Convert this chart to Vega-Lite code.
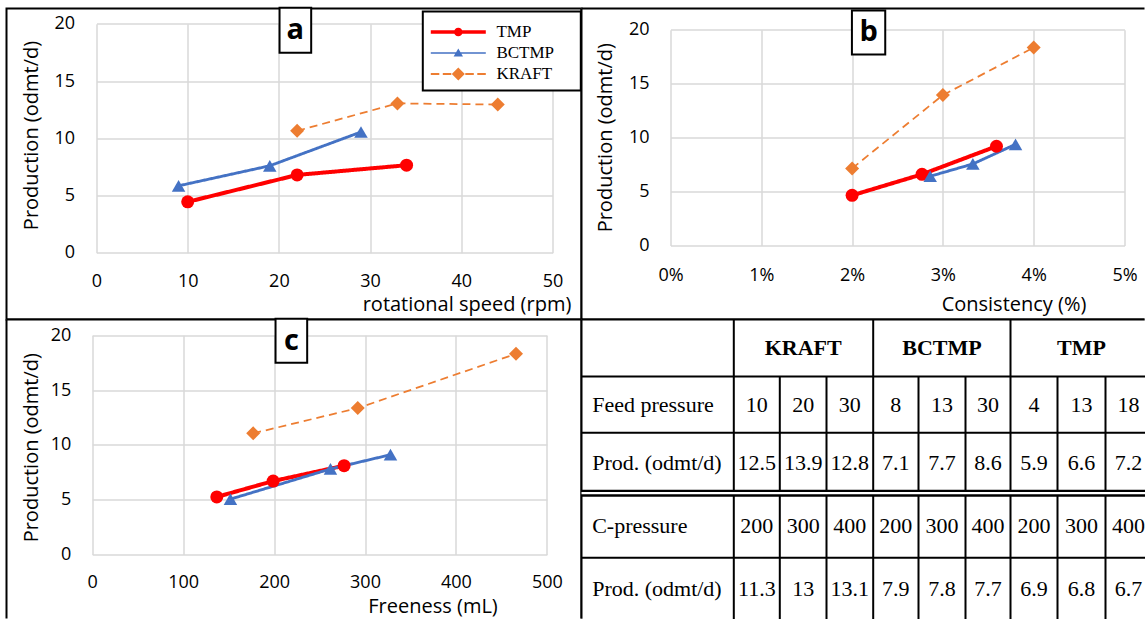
{
  "$schema": "https://vega.github.io/schema/vega-lite/v6.json",
  "padding": {"left": 5.5, "top": 5.5, "right": 0, "bottom": 0},
  "background": "white",
  "config": {
    "view": {"stroke": null},
    "font": "Open Sans",
    "axis": {
      "grid": true, "gridColor": "#d9d9d9", "gridWidth": 1.5,
      "domain": false, "ticks": false, "tickSize": 0,
      "labelFont": "Open Sans", "labelFontSize": 18, "labelColor": "black",
      "labelFlush": false, "labelOverlap": false, "labelBound": false,
      "titleFont": "Open Sans", "titleFontSize": 20, "titleFontWeight": "normal", "titleColor": "black",
      "titleAlign": "center", "titleBaseline": "middle"
    }
  },
  "datasets": {
    "pa": [
      {"series": "TMP", "speed": 10, "prod": 4.45},
      {"series": "TMP", "speed": 22, "prod": 6.8},
      {"series": "TMP", "speed": 34, "prod": 7.65},
      {"series": "BCTMP", "speed": 9, "prod": 5.85},
      {"series": "BCTMP", "speed": 19, "prod": 7.6},
      {"series": "BCTMP", "speed": 29, "prod": 10.55},
      {"series": "KRAFT", "speed": 22, "prod": 10.65},
      {"series": "KRAFT", "speed": 33, "prod": 13.05},
      {"series": "KRAFT", "speed": 44, "prod": 12.95}
    ],
    "pb": [
      {"series": "TMP", "consistency": 0.02, "prod": 4.65},
      {"series": "TMP", "consistency": 0.0277, "prod": 6.6},
      {"series": "TMP", "consistency": 0.0359, "prod": 9.2},
      {"series": "BCTMP", "consistency": 0.0286, "prod": 6.42},
      {"series": "BCTMP", "consistency": 0.0333, "prod": 7.56},
      {"series": "BCTMP", "consistency": 0.038, "prod": 9.38},
      {"series": "KRAFT", "consistency": 0.02, "prod": 7.15},
      {"series": "KRAFT", "consistency": 0.03, "prod": 13.95},
      {"series": "KRAFT", "consistency": 0.04, "prod": 18.35}
    ],
    "pc": [
      {"series": "TMP", "freeness": 137, "prod": 5.25},
      {"series": "TMP", "freeness": 199, "prod": 6.7},
      {"series": "TMP", "freeness": 277, "prod": 8.1},
      {"series": "BCTMP", "freeness": 152, "prod": 5.05},
      {"series": "BCTMP", "freeness": 262, "prod": 7.8},
      {"series": "BCTMP", "freeness": 328, "prod": 9.1},
      {"series": "KRAFT", "freeness": 177, "prod": 11.05},
      {"series": "KRAFT", "freeness": 292, "prod": 13.35},
      {"series": "KRAFT", "freeness": 466, "prod": 18.3}
    ],
    "cells": [
      {"row": 0, "col": 2, "text": "KRAFT"},
      {"row": 0, "col": 5, "text": "BCTMP"},
      {"row": 0, "col": 8, "text": "TMP"},
      {"row": 1, "col": 0, "text": "Feed pressure"},
      {"row": 1, "col": 1, "text": "10"}, {"row": 1, "col": 2, "text": "20"}, {"row": 1, "col": 3, "text": "30"},
      {"row": 1, "col": 4, "text": "8"}, {"row": 1, "col": 5, "text": "13"}, {"row": 1, "col": 6, "text": "30"},
      {"row": 1, "col": 7, "text": "4"}, {"row": 1, "col": 8, "text": "13"}, {"row": 1, "col": 9, "text": "18"},
      {"row": 2, "col": 0, "text": "Prod. (odmt/d)"},
      {"row": 2, "col": 1, "text": "12.5"}, {"row": 2, "col": 2, "text": "13.9"}, {"row": 2, "col": 3, "text": "12.8"},
      {"row": 2, "col": 4, "text": "7.1"}, {"row": 2, "col": 5, "text": "7.7"}, {"row": 2, "col": 6, "text": "8.6"},
      {"row": 2, "col": 7, "text": "5.9"}, {"row": 2, "col": 8, "text": "6.6"}, {"row": 2, "col": 9, "text": "7.2"},
      {"row": 3, "col": 0, "text": "C-pressure"},
      {"row": 3, "col": 1, "text": "200"}, {"row": 3, "col": 2, "text": "300"}, {"row": 3, "col": 3, "text": "400"},
      {"row": 3, "col": 4, "text": "200"}, {"row": 3, "col": 5, "text": "300"}, {"row": 3, "col": 6, "text": "400"},
      {"row": 3, "col": 7, "text": "200"}, {"row": 3, "col": 8, "text": "300"}, {"row": 3, "col": 9, "text": "400"},
      {"row": 4, "col": 0, "text": "Prod. (odmt/d)"},
      {"row": 4, "col": 1, "text": "11.3"}, {"row": 4, "col": 2, "text": "13"}, {"row": 4, "col": 3, "text": "13.1"},
      {"row": 4, "col": 4, "text": "7.9"}, {"row": 4, "col": 5, "text": "7.8"}, {"row": 4, "col": 6, "text": "7.7"},
      {"row": 4, "col": 7, "text": "6.9"}, {"row": 4, "col": 8, "text": "6.8"}, {"row": 4, "col": 9, "text": "6.7"}
    ],
    "lines": [
      {"col": 0.5, "col2": 0.5, "row": -0.5, "row2": 4.5, "kind": "solid"},
      {"col": 3.5, "col2": 3.5, "row": -0.5, "row2": 4.5, "kind": "solid"},
      {"col": 6.5, "col2": 6.5, "row": -0.5, "row2": 4.5, "kind": "solid"},
      {"col": 1.5, "col2": 1.5, "row": 0.5, "row2": 4.5, "kind": "solid"},
      {"col": 2.5, "col2": 2.5, "row": 0.5, "row2": 4.5, "kind": "solid"},
      {"col": 4.5, "col2": 4.5, "row": 0.5, "row2": 4.5, "kind": "solid"},
      {"col": 5.5, "col2": 5.5, "row": 0.5, "row2": 4.5, "kind": "solid"},
      {"col": 7.5, "col2": 7.5, "row": 0.5, "row2": 4.5, "kind": "solid"},
      {"col": 8.5, "col2": 8.5, "row": 0.5, "row2": 4.5, "kind": "solid"},
      {"col": -0.5, "col2": 9.5, "row": 0.5, "row2": 0.5, "kind": "solid"},
      {"col": -0.5, "col2": 9.5, "row": 1.5, "row2": 1.5, "kind": "dashed"},
      {"col": -0.5, "col2": 9.5, "row": 2.5, "row2": 2.5, "kind": "double"},
      {"col": -0.5, "col2": 9.5, "row": 3.5, "row2": 3.5, "kind": "dashed"}
    ]
  },
  "columns": 2,
  "spacing": 0,
  "bounds": "flush",
  "concat": [
    {
      "width": 575, "height": 311,
      "view": {"stroke": "black", "strokeWidth": 2, "fill": "white"},
      "layer": [
        {"data": {"name": "pa"},
         "mark": {"type": "line", "clip": false},
         "encoding": {
           "x": {"field": "speed", "type": "quantitative",
             "scale": {"domain": [0, 50], "range": [90, 546], "nice": false, "zero": false},
             "axis": {"orient": "top", "offset": -244.3, "values": [0, 10, 20, 30, 40, 50],
               "labelPadding": -28.4, "labelBaseline": "middle", "labelAlign": "center",
               "title": "rotational speed (rpm)", "titleX": 460, "titleY": 52, "titleAngle": 0}},
           "y": {"field": "prod", "type": "quantitative",
             "scale": {"domain": [0, 20], "range": [244.3, 15.3], "nice": false, "zero": false},
             "axis": {"orient": "left", "offset": -90, "values": [0, 5, 10, 15, 20],
               "labelPadding": 22, "labelAlign": "right", "labelBaseline": "middle",
               "title": "Production (odmt/d)", "titleX": -65, "titleY": 126.5, "titleAngle": 270}},
           "color": {"field": "series", "type": "nominal", "scale": {"domain": ["TMP", "BCTMP", "KRAFT"], "range": ["#ff0000", "#4472c4", "#ed7d31"]}, "legend": null},
           "strokeWidth": {"field": "series", "type": "nominal", "scale": {"domain": ["TMP", "BCTMP", "KRAFT"], "range": [4, 1.75, 2]}, "legend": null},
           "strokeDash": {"field": "series", "type": "nominal", "scale": {"domain": ["TMP", "BCTMP", "KRAFT"], "range": [[1, 0], [1, 0], [8, 5]]}, "legend": null}
         }},
        {"data": {"name": "pa"},
         "mark": {"type": "point", "filled": true, "opacity": 1},
         "encoding": {
           "x": {"field": "speed", "type": "quantitative"},
           "y": {"field": "prod", "type": "quantitative"},
           "color": {"field": "series", "type": "nominal", "scale": {"domain": ["TMP", "BCTMP", "KRAFT"], "range": ["#ff0000", "#4472c4", "#ed7d31"]}, "legend": null},
           "shape": {"field": "series", "type": "nominal", "scale": {"domain": ["TMP", "BCTMP", "KRAFT"], "range": ["circle", "triangle-up", "diamond"]}, "legend": null},
           "size": {"field": "series", "type": "nominal", "scale": {"domain": ["TMP", "BCTMP", "KRAFT"], "range": [169, 196, 151]}, "legend": null}
         }},
        {"data": {"values": [{"label": "a"}]},
         "mark": {"type": "rect", "fill": "white", "stroke": "black", "strokeWidth": 2},
         "encoding": {"x": {"datum": 20.07, "type": "quantitative"}, "x2": {"datum": 23.54}, "y": {"datum": 21.4, "type": "quantitative"}, "y2": {"datum": 17.47}}},
        {"data": {"values": [{"label": "a"}]},
         "mark": {"type": "text", "font": "Open Sans", "fontSize": 29, "fontWeight": "bold", "color": "black", "align": "center", "baseline": "middle"},
         "encoding": {"x": {"datum": 21.8, "type": "quantitative"}, "y": {"datum": 19.44, "type": "quantitative"}, "text": {"field": "label"}}},
        {"data": {"values": []},
         "mark": {"type": "point", "filled": true, "opacity": 1},
         "encoding": {
           "color": {"field": "series", "type": "nominal", "scale": {"domain": ["TMP", "BCTMP", "KRAFT"], "range": ["#ff0000", "#4472c4", "#ed7d31"]},
             "legend": {"orient": "none", "legendX": 416.3, "legendY": 3, "title": null, "padding": 8, "strokeColor": "black", "fillColor": "white",
               "symbolSize": 625, "symbolOffset": 15, "symbolStrokeWidth": 0, "symbolOpacity": 1, "labelFont": "Liberation Serif", "labelFontSize": 17, "labelColor": "black", "labelOffset": 25.6, "rowPadding": -1.5, "labelBaseline": "middle",
               "encode": {"legend": {"update": {"strokeWidth": {"value": 2}}}}}},
           "shape": {"field": "series", "type": "nominal", "scale": {"domain": ["TMP", "BCTMP", "KRAFT"], "range": [
             "M-2.2,-0.132H2.2V0.132H-2.2Z M0.344,0A0.344,0.344 0 1,1 -0.344,0A0.344,0.344 0 1,1 0.344,0Z M9.1,0h0.001v0.001z",
             "M-2.2,-0.06H2.2V0.06H-2.2Z M0,-0.352L0.376,0.288L-0.376,0.288Z M9.1,0h0.001v0.001z",
             "M-2.2,-0.08H-1.52V0.08H-2.2Z M-1.24,-0.08H-0.56V0.08H-1.24Z M0.56,-0.08H1.24V0.08H0.56Z M1.52,-0.08H2.2V0.08H1.52Z M0,-0.52L0.52,0L0,0.52L-0.52,0Z M9.1,0h0.001v0.001z"]},
             "legend": {"orient": "none", "legendX": 416.3, "legendY": 3, "title": null, "padding": 8, "strokeColor": "black", "fillColor": "white",
               "symbolSize": 625, "symbolOffset": 15, "symbolStrokeWidth": 0, "symbolOpacity": 1, "labelFont": "Liberation Serif", "labelFontSize": 17, "labelColor": "black", "labelOffset": 25.6, "rowPadding": -1.5, "labelBaseline": "middle",
               "encode": {"legend": {"update": {"strokeWidth": {"value": 2}}}}}}
         }}
      ],
      "resolve": {"scale": {"color": "independent", "shape": "independent"}}
    },
    {
      "width": 563, "height": 311,
      "view": {"stroke": "black", "strokeWidth": 2, "fill": "white", "strokeDash": [563, 311, 874, 0]},
      "layer": [
        {"data": {"name": "pb"},
         "mark": {"type": "line", "clip": false},
         "encoding": {
           "x": {"field": "consistency", "type": "quantitative",
             "scale": {"domain": [0, 0.05], "range": [89, 543], "nice": false, "zero": false},
             "axis": {"orient": "top", "offset": -237, "values": [0, 0.01, 0.02, 0.03, 0.04, 0.05], "format": ".0%",
               "labelPadding": -30, "labelBaseline": "middle", "labelAlign": "center",
               "title": "Consistency (%)", "titleX": 432, "titleY": 58.5, "titleAngle": 0}},
           "y": {"field": "prod", "type": "quantitative",
             "scale": {"domain": [0, 20], "range": [237, 21.3], "nice": false, "zero": false},
             "axis": {"orient": "left", "offset": -89, "values": [0, 5, 10, 15, 20],
               "labelPadding": 21.5, "labelAlign": "right", "labelBaseline": "middle",
               "title": "Production (odmt/d)", "titleX": -65, "titleY": 128.7, "titleAngle": 270}},
           "color": {"field": "series", "type": "nominal", "scale": {"domain": ["TMP", "BCTMP", "KRAFT"], "range": ["#ff0000", "#4472c4", "#ed7d31"]}, "legend": null},
           "strokeWidth": {"field": "series", "type": "nominal", "scale": {"domain": ["TMP", "BCTMP", "KRAFT"], "range": [4, 1.75, 2]}, "legend": null},
           "strokeDash": {"field": "series", "type": "nominal", "scale": {"domain": ["TMP", "BCTMP", "KRAFT"], "range": [[1, 0], [1, 0], [8, 5]]}, "legend": null}
         }},
        {"data": {"name": "pb"},
         "mark": {"type": "point", "filled": true, "opacity": 1},
         "encoding": {
           "x": {"field": "consistency", "type": "quantitative"},
           "y": {"field": "prod", "type": "quantitative"},
           "color": {"field": "series", "type": "nominal", "scale": {"domain": ["TMP", "BCTMP", "KRAFT"], "range": ["#ff0000", "#4472c4", "#ed7d31"]}, "legend": null},
           "shape": {"field": "series", "type": "nominal", "scale": {"domain": ["TMP", "BCTMP", "KRAFT"], "range": ["circle", "triangle-up", "diamond"]}, "legend": null},
           "size": {"field": "series", "type": "nominal", "scale": {"domain": ["TMP", "BCTMP", "KRAFT"], "range": [169, 196, 151]}, "legend": null}
         }},
        {"data": {"values": [{"label": "b"}]},
         "mark": {"type": "rect", "fill": "white", "stroke": "black", "strokeWidth": 2},
         "encoding": {"x": {"datum": 0.01998, "type": "quantitative"}, "x2": {"datum": 0.02365}, "y": {"datum": 21.79, "type": "quantitative"}, "y2": {"datum": 17.71}}},
        {"data": {"values": [{"label": "b"}]},
         "mark": {"type": "text", "font": "Open Sans", "fontSize": 29, "fontWeight": "bold", "color": "black", "align": "center", "baseline": "middle"},
         "encoding": {"x": {"datum": 0.02182, "type": "quantitative"}, "y": {"datum": 19.75, "type": "quantitative"}, "text": {"field": "label"}}}
      ]
    },
    {
      "width": 575, "height": 299,
      "view": {"stroke": "black", "strokeWidth": 2, "fill": "white", "strokeDash": [874, 575, 299, 0]},
      "layer": [
        {"data": {"name": "pc"},
         "mark": {"type": "line", "clip": false},
         "encoding": {
           "x": {"field": "freeness", "type": "quantitative",
             "scale": {"domain": [0, 500], "range": [85.7, 540.4], "nice": false, "zero": false},
             "axis": {"orient": "top", "offset": -235, "values": [0, 100, 200, 300, 400, 500],
               "labelPadding": -28, "labelBaseline": "middle", "labelAlign": "center",
               "title": "Freeness (mL)", "titleX": 426, "titleY": 52, "titleAngle": 0}},
           "y": {"field": "prod", "type": "quantitative",
             "scale": {"domain": [0, 20], "range": [235, 15.7], "nice": false, "zero": false},
             "axis": {"orient": "left", "offset": -85.7, "values": [0, 5, 10, 15, 20],
               "labelPadding": 21.4, "labelAlign": "right", "labelBaseline": "middle",
               "title": "Production (odmt/d)", "titleX": -60.7, "titleY": 127.7, "titleAngle": 270}},
           "color": {"field": "series", "type": "nominal", "scale": {"domain": ["TMP", "BCTMP", "KRAFT"], "range": ["#ff0000", "#4472c4", "#ed7d31"]}, "legend": null},
           "strokeWidth": {"field": "series", "type": "nominal", "scale": {"domain": ["TMP", "BCTMP", "KRAFT"], "range": [4, 1.75, 2]}, "legend": null},
           "strokeDash": {"field": "series", "type": "nominal", "scale": {"domain": ["TMP", "BCTMP", "KRAFT"], "range": [[1, 0], [1, 0], [8, 5]]}, "legend": null}
         }},
        {"data": {"name": "pc"},
         "mark": {"type": "point", "filled": true, "opacity": 1},
         "encoding": {
           "x": {"field": "freeness", "type": "quantitative"},
           "y": {"field": "prod", "type": "quantitative"},
           "color": {"field": "series", "type": "nominal", "scale": {"domain": ["TMP", "BCTMP", "KRAFT"], "range": ["#ff0000", "#4472c4", "#ed7d31"]}, "legend": null},
           "shape": {"field": "series", "type": "nominal", "scale": {"domain": ["TMP", "BCTMP", "KRAFT"], "range": ["circle", "triangle-up", "diamond"]}, "legend": null},
           "size": {"field": "series", "type": "nominal", "scale": {"domain": ["TMP", "BCTMP", "KRAFT"], "range": [169, 196, 151]}, "legend": null}
         }},
        {"data": {"values": [{"label": "c"}]},
         "mark": {"type": "rect", "fill": "white", "stroke": "black", "strokeWidth": 2},
         "encoding": {"x": {"datum": 201.6, "type": "quantitative"}, "x2": {"datum": 236.4}, "y": {"datum": 21.5, "type": "quantitative"}, "y2": {"datum": 17.48}}},
        {"data": {"values": [{"label": "c"}]},
         "mark": {"type": "text", "font": "Open Sans", "fontSize": 29, "fontWeight": "bold", "color": "black", "align": "center", "baseline": "middle"},
         "encoding": {"x": {"datum": 219, "type": "quantitative"}, "y": {"datum": 19.49, "type": "quantitative"}, "text": {"field": "label"}}}
      ]
    },
    {
      "width": 563, "height": 299,
      "view": {"stroke": "black", "strokeWidth": 2, "fill": "white", "strokeDash": [563, 862, 299, 0]},
      "encoding": {
        "x": {"field": "col", "type": "quantitative",
          "scale": {"domain": [-0.5, 0.5, 1.5, 2.5, 3.5, 4.5, 5.5, 6.5, 7.5, 8.5, 9.5], "range": [0, 152.3, 198.3, 245, 291.7, 337, 384, 429, 476, 524, 570], "nice": false, "zero": false},
          "axis": null},
        "y": {"field": "row", "type": "quantitative",
          "scale": {"domain": [-0.5, 0.5, 1.5, 2.5, 3.5, 4.5], "range": [0, 57, 113.3, 173.7, 238.3, 301], "nice": false, "zero": false},
          "axis": null}
      },
      "layer": [
        {"data": {"name": "lines"}, "transform": [{"filter": "datum.kind !== 'double'"}],
         "mark": {"type": "rule", "color": "black", "strokeWidth": 2},
         "encoding": {"x2": {"field": "col2"}, "y2": {"field": "row2"},
           "strokeDash": {"field": "kind", "type": "nominal", "scale": {"domain": ["solid", "dashed"], "range": [[1, 0], [7, 4]]}, "legend": null}}},
        {"data": {"name": "lines"}, "transform": [{"filter": "datum.kind === 'double'"}],
         "mark": {"type": "rule", "color": "black", "strokeWidth": 7},
         "encoding": {"x2": {"field": "col2"}, "y2": {"field": "row2"}}},
        {"data": {"name": "lines"}, "transform": [{"filter": "datum.kind === 'double'"}],
         "mark": {"type": "rule", "color": "white", "strokeWidth": 2.2},
         "encoding": {"x2": {"field": "col2"}, "y2": {"field": "row2"}}},
        {"data": {"name": "cells"}, "transform": [{"filter": "datum.row === 0"}],
         "mark": {"type": "text", "font": "Liberation Serif", "fontSize": 22, "fontWeight": "bold", "color": "black", "align": "center", "baseline": "middle"},
         "encoding": {"text": {"field": "text"}}},
        {"data": {"name": "cells"}, "transform": [{"filter": "datum.row > 0 && datum.col === 0"}],
         "mark": {"type": "text", "font": "Liberation Serif", "fontSize": 22, "color": "black", "align": "left", "baseline": "middle", "dx": -65.5},
         "encoding": {"text": {"field": "text"}}},
        {"data": {"name": "cells"}, "transform": [{"filter": "datum.row > 0 && datum.col > 0"}],
         "mark": {"type": "text", "font": "Liberation Serif", "fontSize": 22, "color": "black", "align": "center", "baseline": "middle"},
         "encoding": {"text": {"field": "text"}}}
      ]
    }
  ]
}
